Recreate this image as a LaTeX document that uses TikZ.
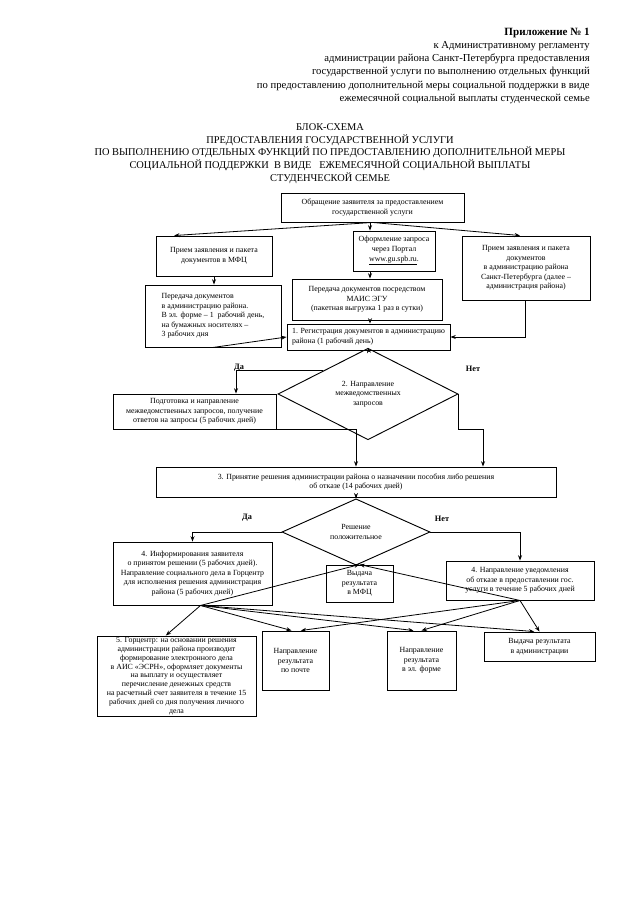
\documentclass[tikz,border=0pt]{standalone}
\usepackage{fontspec}
\setmainfont{Liberation Serif}
\usetikzlibrary{arrows.meta,shapes.geometric,calc}
\tikzset{
  box/.style={draw, line width=0.7pt, align=center, font=\fontsize{5.9}{7.2}\selectfont, inner sep=1pt},
  lbox/.style={align=left},
  tight/.style={font=\fontsize{5.9}{6.6}\selectfont},
  dia/.style={draw, diamond, line width=0.7pt, align=center, font=\fontsize{5.9}{7.2}\selectfont, inner sep=0pt},
  arr/.style={line width=0.6pt, -{Stealth[length=4pt,width=3pt]}},
  hdr/.style={anchor=east, font=\fontsize{8}{10}\selectfont, inner sep=0pt},
  ttl/.style={anchor=center, font=\fontsize{7.8}{9}\selectfont, inner sep=0pt},
  yn/.style={font=\bfseries\fontsize{6.2}{7}\selectfont, inner sep=0pt}
}
\newcommand\mybox[7][]{\node[box,#1,minimum width={(#5-#3)*0.75pt},minimum height={(#6-#4)*0.75pt}] (#2) at ({(#3+#5)/2},{(#4+#6)/2}) {#7};}
\begin{document}
\begin{tikzpicture}[x=0.75pt,y=-0.75pt]
\useasboundingbox (0,0) rectangle (640,905);
\fill[white] (0,0) rectangle (640,905);
% header
\node[hdr, font=\bfseries\fontsize{8.3}{10}\selectfont] (h1) at (590,33) {Приложение № 1};
\node[hdr] (h2) at (590,46) {к Административному регламенту};
\node[hdr] (h3) at (590,59) {администрации района Санкт-Петербурга предоставления};
\node[hdr] (h4) at (590,72) {государственной услуги по выполнению отдельных функций};
\node[hdr] (h5) at (590,86) {по предоставлению дополнительной меры социальной поддержки в виде};
\node[hdr] (h6) at (590,99) {ежемесячной социальной выплаты студенческой семье};
% title
\node[ttl] (t1) at (330,127) {БЛОК-СХЕМА};
\node[ttl] (t2) at (330,140) {ПРЕДОСТАВЛЕНИЯ ГОСУДАРСТВЕННОЙ УСЛУГИ};
\node[ttl] (t3) at (330,152) {ПО ВЫПОЛНЕНИЮ ОТДЕЛЬНЫХ ФУНКЦИЙ ПО ПРЕДОСТАВЛЕНИЮ ДОПОЛНИТЕЛЬНОЙ МЕРЫ};
\node[ttl] (t4) at (330,165) {СОЦИАЛЬНОЙ ПОДДЕРЖКИ \ В ВИДЕ \ \ ЕЖЕМЕСЯЧНОЙ СОЦИАЛЬНОЙ ВЫПЛАТЫ};
\node[ttl] (t5) at (330,178) {СТУДЕНЧЕСКОЙ СЕМЬЕ};
% boxes
\mybox{A}{281}{193}{464}{222}{Обращение заявителя за предоставлением\\государственной услуги}
\mybox{B}{156}{236}{272}{276}{Прием заявления и пакета\\документов в МФЦ}
\mybox{C}{353}{231}{435}{271}{Оформление запроса\\через Портал\\\underline{www.gu.spb.ru}.}
\mybox{D}{462}{236}{590}{300}{Прием заявления и пакета\\документов\\в администрацию района\\Санкт-Петербурга (далее –\\администрация района)}
\mybox[lbox]{E}{145}{285}{281}{347}{Передача документов\\в администрацию района.\\В эл. форме – 1 \ рабочий день,\\на бумажных носителях –\\3 рабочих дня}
\mybox{F}{292}{279}{442}{320}{Передача документов посредством\\МАИС ЭГУ\\(пакетная выгрузка 1 раз в сутки)}
\mybox[lbox]{G}{287}{324}{450}{350}{1. Регистрация документов в администрацию\\района (1 рабочий день)}
\node[dia, minimum width={180*0.75pt}, minimum height={70*0.75pt}] (D1) at (368,394) {2. Направление\\межведомственных\\запросов};
\mybox{H}{113}{394}{276}{429}{Подготовка и направление\\межведомственных запросов, получение\\ответов на запросы (5 рабочих дней)}
\mybox{I}{156}{467}{556}{497}{3. Принятие решения администрации района о назначении пособия либо решения\\об отказе (14 рабочих дней)}
\node[dia, minimum width={148*0.75pt}, minimum height={54*0.75pt}] (D2) at (356,532) {Решение\\положительное};
\mybox{J}{113}{542}{272}{605}{4. Информирования заявителя\\о принятом решении (5 рабочих дней).\\Направление социального дела в Горцентр\\для исполнения решения администрация\\района (5 рабочих дней)}
\mybox{K}{326}{565}{393}{602}{Выдача\\результата\\в МФЦ}
\mybox{L}{446}{561}{594}{600}{4. Направление уведомления\\об отказе в предоставлении гос.\\услуги в течение 5 рабочих дней}
\mybox[tight]{M}{97}{636}{256}{716}{5. Горцентр: на основании решения\\администрации района производит\\формирование электронного дела\\в АИС «ЭСРН», оформляет документы\\на выплату и осуществляет\\перечисление денежных средств\\на расчетный счет заявителя в течение 15\\рабочих дней со дня получения личного\\дела}
\mybox{N}{262}{631}{329}{690}{Направление\\результата\\по почте}
\mybox{O}{387}{631}{456}{690}{Направление\\результата\\в эл. форме}
\mybox{P}{484}{632}{595}{661}{Выдача результата\\в администрации}
% yes/no labels
\node[yn] (da1) at (239,368) {Да};
\node[yn] (net1) at (473,369) {Нет};
\node[yn] (da2) at (247,518) {Да};
\node[yn] (net2) at (442,519) {Нет};
% helper coordinates
\coordinate (vx) at (370,0);
\coordinate (dx) at (520,0);
\coordinate (dg) at (525,0);
\coordinate (hx) at (236,0);
\coordinate (ix) at (483,0);
\coordinate (jh) at ([xshift=6pt]J.south);
% connectors
\draw[arr] (A.south) -- ([xshift=14pt]B.north west);
\draw[arr] (A.south -| vx) -- (C.north -| vx);
\draw[arr] (A.south) -- (D.north -| dx);
\draw[arr] (B.south) -- (E.north -| B.south);
\draw[arr] (C.south -| vx) -- (F.north -| vx);
\draw[arr] (F.south -| vx) -- (G.north -| vx);
\draw[arr] (D.south -| dg) |- (G.east);
\draw[arr] (E.south) -- (G.west);
\draw[arr] (G.south) -- (D1.north);
\draw[arr] (D1.north west) -| (H.north -| hx);
\draw[arr] (D1.east) -- (D1.east |- H.south) -| (I.north -| ix);
\draw[arr] (H.south east) -| (I.north -| D2.north);
\draw[arr] (I.south) -- (D2.north);
\draw[arr] (D2.west) -| (J.north);
\draw[arr] (D2.east) -| (L.north);
\draw[arr] (jh) -- (K.north);
\draw[arr] (L.south) -- (K.north);
\draw[arr] (jh) -- ([xshift=-8pt]M.north);
\draw[arr] (jh) -- ([xshift=-3pt]N.north);
\draw[arr] (jh) -- ([xshift=-6pt]O.north);
\draw[arr] (jh) -- ([xshift=-4pt]P.north);
\draw[arr] (L.south) -- ([xshift=4pt]N.north);
\draw[arr] (L.south) -- (O.north);
\draw[arr] (L.south) -- (P.north);
\end{tikzpicture}
\end{document}
